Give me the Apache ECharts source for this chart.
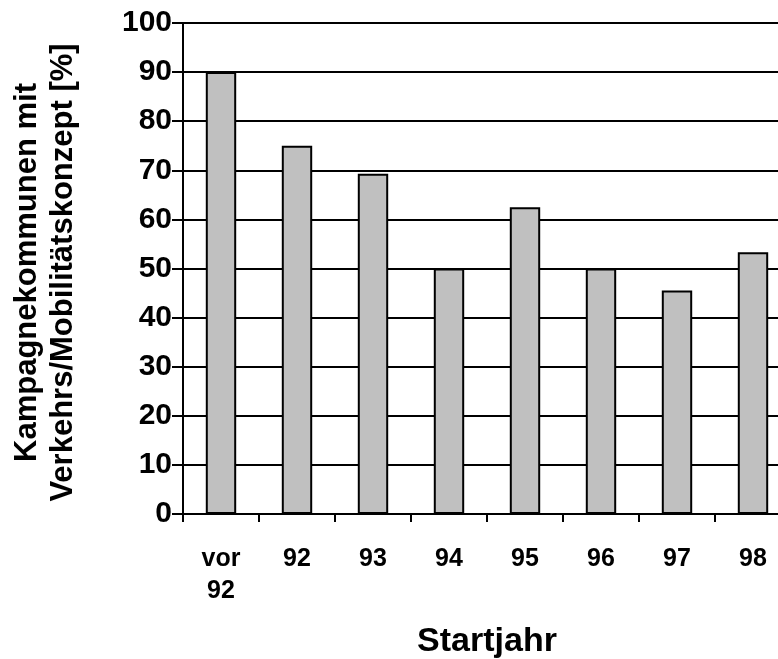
<!DOCTYPE html>
<html>
<head>
<meta charset="utf-8">
<script src="https://cdn.jsdelivr.net/npm/echarts@6/dist/echarts.min.js"></script>
<style>
html,body{margin:0;padding:0;background:#fff;}
#chart{width:778px;height:659px;}
</style>
</head>
<body>
<div id="chart"></div>
<script>
const categories = ['vor\n92', '92', '93', '94', '95', '96', '97', '98'];
const values = [90, 75, 69.3, 50, 62.5, 50, 45.5, 53.3];
const yTicks = { min: 0, max: 100, interval: 10 };
const yAxisName = 'Kampagnekommunen mit\nVerkehrs/Mobilitätskonzept [%]';
const xAxisName = 'Startjahr';

const FONT = '"Liberation Sans", Arial, sans-serif';
const chart = echarts.init(document.getElementById('chart'), null, { renderer: 'canvas' });
chart.setOption({
  animation: false,
  backgroundColor: '#ffffff',
  grid: { left: 183, top: 23, width: 608, height: 491, containLabel: false, outerBoundsMode: 'none' },
  xAxis: {
    type: 'category',
    data: categories,
    boundaryGap: true,
    axisLine: { lineStyle: { color: '#000', width: 2 } },
    axisTick: { show: true, length: 8, lineStyle: { color: '#000', width: 2 }, alignWithLabel: false },
    axisLabel: { color: '#000', fontFamily: FONT, fontWeight: 'bold', fontSize: 25, lineHeight: 32, margin: 29, interval: 0 },
    name: xAxisName,
    nameLocation: 'middle',
    nameGap: 111,
    nameTextStyle: { color: '#000', fontFamily: FONT, fontWeight: 'bold', fontSize: 34 },
    splitLine: { show: false }
  },
  yAxis: {
    type: 'value',
    min: yTicks.min, max: yTicks.max, interval: yTicks.interval,
    axisLine: { show: true, lineStyle: { color: '#000', width: 2 } },
    axisTick: { show: true, length: 11, lineStyle: { color: '#000', width: 2 } },
    axisLabel: { color: '#000', fontFamily: FONT, fontWeight: 'bold', fontSize: 30, margin: 11 },
    splitLine: { show: true, lineStyle: { color: '#000', width: 2 } },
    name: yAxisName,
    nameLocation: 'middle',
    nameRotate: 90,
    nameGap: 102,
    nameTextStyle: { color: '#000', fontFamily: FONT, fontWeight: 'bold', fontSize: 31, lineHeight: 36, align: 'center', padding: [0, 8, 0, 0] }
  },
  series: [{
    type: 'bar',
    data: values,
    barWidth: '40%',
    itemStyle: { color: '#c0c0c0', borderColor: '#000', borderWidth: 2 },
    z: 3
  }]
});
</script>
</body>
</html>
